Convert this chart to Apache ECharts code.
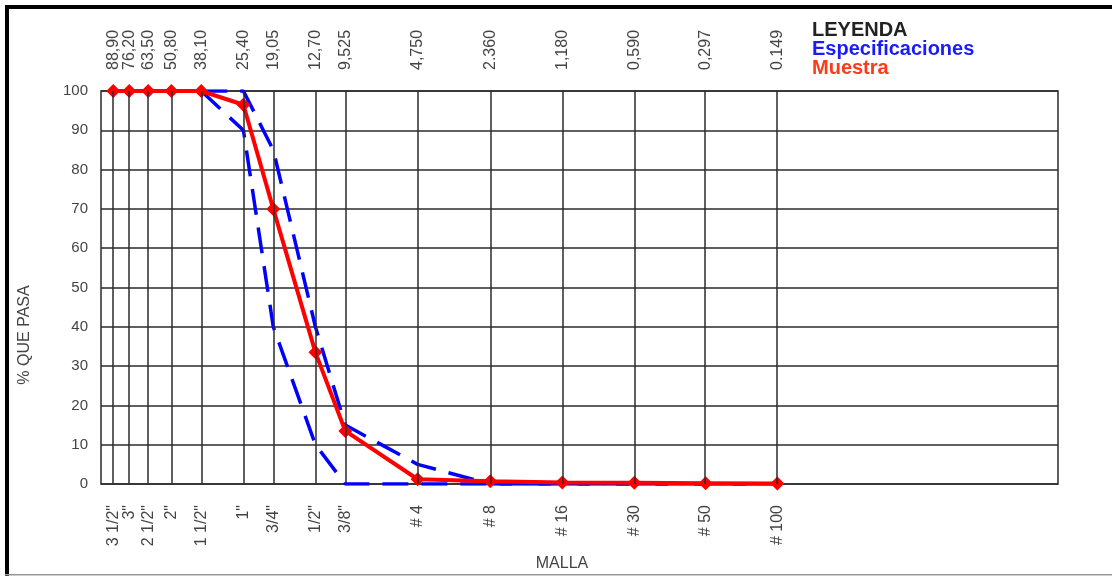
<!DOCTYPE html>
<html><head><meta charset="utf-8">
<script src="https://cdn.jsdelivr.net/npm/echarts@6/dist/echarts.min.js"></script>
<style>html,body{margin:0;padding:0;background:#fff}#c{width:1112px;height:576px}</style>
</head><body><div id="c"></div><script>
const sizes = [88.9, 76.2, 63.5, 50.8, 38.1, 25.4, 19.05, 12.7, 9.525, 4.75, 2.36, 1.18, 0.59, 0.297, 0.149];
const sizeLabels = ['88,90','76,20','63,50','50,80','38,10','25,40','19,05','12,70','9,525','4,750','2.360','1,180','0,590','0,297','0.149'];
const meshLabels = ['3 1/2"','3"','2 1/2"','2"','1 1/2"','1"','3/4"','1/2"','3/8"','# 4','# 8','# 16','# 30','# 50','# 100'];
const muestra = [100,100,100,100,100,96.5,70,33.5,13.5,1.2,0.7,0.4,0.3,0.2,0.1];
const specSizes = [38.1,25.4,19.05,12.7,9.525,4.75,2.36,1.18,0.59,0.297,0.149];
const specUpper = [100,100,85,40,15,5,0,0,0,0,0];
const specLower = [100,90,40,10,0,0,0,0,0,0,0];

const FONT = 'Liberation Sans, Arial, sans-serif';
function pick(arr){
  return function(v){
    let best=0, bd=1e9;
    for(let i=0;i<sizes.length;i++){
      const d=Math.abs(Math.log(v)-Math.log(sizes[i]));
      if(d<bd){bd=d;best=i;}
    }
    return bd<0.01?arr[best]:'';
  };
}
const chart = echarts.init(document.getElementById('c'), null, {renderer:'canvas'});
const gridColor = '#2b2b2b';
chart.setOption({
  animation:false,
  backgroundColor:'#fff',
  grid:{left:101,right:54,top:91,bottom:92,show:true,borderColor:gridColor,borderWidth:1.5,backgroundColor:'transparent'},
  xAxis:[{
    type:'log',logBase:10,min:0.01,max:100,inverse:true,position:'bottom',
    axisLine:{show:false},axisTick:{show:false},splitLine:{show:false},minorTick:{show:false},minorSplitLine:{show:false},
    axisLabel:{customValues:sizes,formatter:pick(meshLabels),rotate:90,margin:21,fontSize:16,color:'#444',fontFamily:FONT}
  },{
    type:'log',logBase:10,min:0.01,max:100,inverse:true,position:'top',
    axisLine:{show:false},axisTick:{show:false},splitLine:{show:false},minorTick:{show:false},minorSplitLine:{show:false},
    axisLabel:{customValues:sizes,formatter:pick(sizeLabels),rotate:-90,margin:21,fontSize:16,color:'#444',fontFamily:FONT}
  }],
  yAxis:{
    type:'value',min:0,max:100,interval:10,
    axisLine:{show:false},axisTick:{show:false},
    splitLine:{show:true,lineStyle:{color:gridColor,width:1.5}},
    axisLabel:{fontSize:15,color:'#444',margin:13,fontFamily:FONT}
  },
  series:[{
    name:'grid',type:'line',z:1,silent:true,symbol:'none',
    data:sizes.map((s,i)=>[s,muestra[i]]),lineStyle:{opacity:0},
    markLine:{silent:true,symbol:'none',label:{show:false},animation:false,
      lineStyle:{color:gridColor,width:1.5,type:'solid'},
      data:sizes.map(s=>({xAxis:s}))}
  },{
    name:'Especificaciones',type:'line',z:3,symbol:'none',
    data:specSizes.map((s,i)=>[s,specUpper[i]]),
    lineStyle:{color:'#0000ff',width:3.5,type:[26,13]}
  },{
    name:'Especificaciones',type:'line',z:3,symbol:'none',
    data:specSizes.map((s,i)=>[s,specLower[i]]),
    lineStyle:{color:'#0000ff',width:3.5,type:[26,13]}
  },{
    name:'Muestra',type:'line',z:4,symbol:'diamond',symbolSize:14,
    data:sizes.map((s,i)=>[s,muestra[i]]),
    lineStyle:{color:'#ff0000',width:4},itemStyle:{color:'#ff0000'}
  }],
  graphic:[
    {type:'rect',shape:{x:5,y:5,width:1107,height:4},style:{fill:'#000'},silent:true},
    {type:'rect',shape:{x:5,y:5,width:4,height:571},style:{fill:'#000'},silent:true},
    {type:'rect',shape:{x:5,y:574,width:1107,height:1.5},style:{fill:'#999'},silent:true},
    {type:'text',x:812,y:30,style:{text:'LEYENDA',font:'bold 20px '+FONT,fill:'#222',textVerticalAlign:'middle'}},
    {type:'text',x:812,y:49,style:{text:'Especificaciones',font:'bold 20px '+FONT,fill:'#1a1aff',textVerticalAlign:'middle'}},
    {type:'text',x:812,y:68,style:{text:'Muestra',font:'bold 20px '+FONT,fill:'#ff3a1a',textVerticalAlign:'middle'}},
    {type:'text',x:562,y:564,style:{text:'MALLA',font:'16px '+FONT,fill:'#444',textAlign:'center',textVerticalAlign:'middle'}},
    {type:'text',x:25,y:335,rotation:Math.PI/2,style:{text:'% QUE PASA',font:'16px '+FONT,fill:'#444',textAlign:'center',textVerticalAlign:'middle'}}
  ]
});
</script></body></html>
